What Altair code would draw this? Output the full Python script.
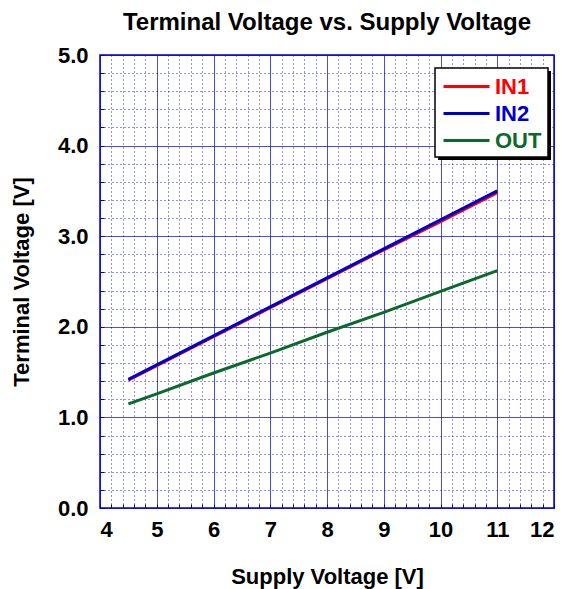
import altair as alt
import pandas as pd

# ---- data ----
supply = [4.5, 5, 6, 7, 8, 9, 10, 11]
in1 = [1.41, 1.57, 1.89, 2.21, 2.53, 2.85, 3.16, 3.48]
in2 = [1.42, 1.58, 1.90, 2.22, 2.54, 2.86, 3.18, 3.50]
out = [1.15, 1.26, 1.49, 1.71, 1.94, 2.16, 2.39, 2.62]
series = ["IN1", "IN2", "OUT"]
colors = ["#ff0000", "#0000cc", "#0b6a2a"]
x_ticks = [round(4 + 0.2 * i, 1) for i in range(41)]
y_ticks = [round(0.2 * i, 1) for i in range(26)]

rows = []
for name, vals in zip(series, [in1, in2, out]):
    for s, v in zip(supply, vals):
        rows.append({"supply": s, "volt": v, "series": name})
df = pd.DataFrame(rows)

FONT = "Liberation Sans"
GRID = "#0000cc"
is_major = "abs(datum.value - round(datum.value)) < 0.01"
label_color_expr = (
    f"datum.value == '{series[0]}' ? '{colors[0]}' : "
    f"(datum.value == '{series[1]}' ? '{colors[1]}' : '{colors[2]}')"
)


def make_axis(fmt, title, label_pad, title_pad):
    return alt.Axis(
        values=x_ticks if fmt == "d" else y_ticks,
        labelExpr=f"{is_major} ? format(datum.value, '{fmt}') : ''",
        grid=True,
        gridColor=GRID,
        gridDash={"condition": {"test": f"!({is_major})", "value": [1, 3]}, "value": [1, 0]},
        gridOpacity={"condition": {"test": is_major, "value": 0.9}, "value": 0.85},
        gridWidth=1,
        domain=False,
        ticks=True,
        tickColor=GRID,
        tickSize={"expr": "-4"},
        labelPadding=label_pad,
        labelFont=FONT,
        labelFontSize=22,
        labelFontWeight="bold",
        labelColor="black",
        title=title,
        titleFont=FONT,
        titleFontSize=22,
        titleFontWeight="bold",
        titleColor="black",
        titlePadding=title_pad,
    )


lines = alt.Chart(df).mark_line(strokeWidth=3).encode(
    x=alt.X("supply:Q", scale=alt.Scale(domain=[4, 12], nice=False, zero=False),
            axis=make_axis("d", "Supply Voltage [V]", 15, 26)),
    y=alt.Y("volt:Q", scale=alt.Scale(domain=[0, 5], nice=False),
            axis=make_axis(".1f", "Terminal Voltage [V]", 16, 24)),
    color=alt.Color(
        "series:N",
        scale=alt.Scale(domain=series, range=colors),
        legend=alt.Legend(
            title=None,
            orient="none",
            legendX=365,
            legendY=18.5,
            padding=0,
            symbolType="M-3,0H1",
            symbolSize=529,
            symbolStrokeWidth=3,
            symbolFillColor="transparent",
            labelFont=FONT,
            labelFontSize=22,
            labelFontWeight="bold",
            labelColor={"expr": label_color_expr},
            labelOffset=4,
            rowPadding=3,
            labelLimit=200,
        ),
    ),
    order=alt.Order("series:N"),
)

box = pd.DataFrame({"k": [0]})
shadow = alt.Chart(box).mark_rect(color="black").encode(
    x=alt.value(338), x2=alt.value(451), y=alt.value(16), y2=alt.value(105)
)
frame = alt.Chart(box).mark_rect(fill="white", stroke="black", strokeWidth=1.5).encode(
    x=alt.value(335), x2=alt.value(448), y=alt.value(13), y2=alt.value(102)
)

chart = alt.layer(lines, shadow, frame).properties(
    width=454,
    height=453,
    autosize=alt.AutoSizeParams(type="none"),
    padding={"left": 92, "top": 47, "right": 8, "bottom": 81},
    title=alt.Title(
        "Terminal Voltage vs. Supply Voltage",
        font=FONT,
        fontSize=24,
        fontWeight="bold",
        color="black",
        anchor="middle",
        offset=9,
    ),
).configure_view(stroke=GRID, strokeWidth=1.5)

chart.save("out.html", embed_options={"renderer": "svg", "actions": False})
